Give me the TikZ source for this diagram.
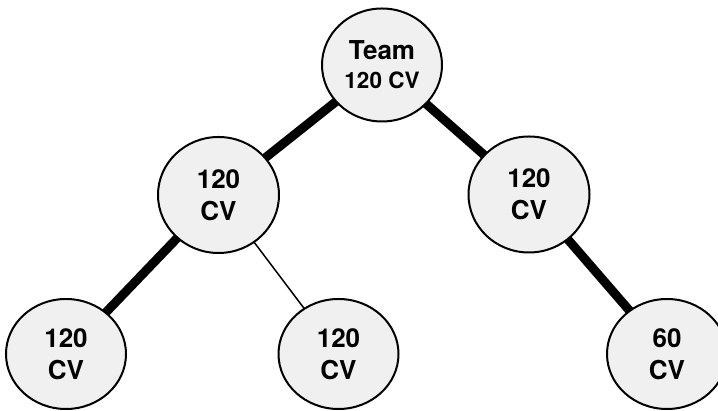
\documentclass[tikz,border=0pt]{standalone}
\usepackage{fontspec}
\setmainfont{TeX Gyre Heros}
\usetikzlibrary{shapes.geometric,backgrounds}
\definecolor{nodefill}{RGB}{240,240,240}
\tikzset{
  cvnode/.style={ellipse, draw=black, line width=2pt, fill=nodefill, inner sep=0pt,
    minimum width=120pt, minimum height=112pt, align=center,
    font=\bfseries\fontsize{26}{32}\selectfont},
  thickedge/.style={line width=9pt, black},
  thinedge/.style={line width=1.5pt, black}
}
\begin{document}
\begin{tikzpicture}[x=1pt,y=1pt]
\useasboundingbox (0,0) rectangle (718,411);
\clip (0,0) rectangle (718,411);
\node[cvnode, minimum height=113pt] (team) at (382,346)
  {Team\\[-3pt]{\fontsize{22.5}{29}\selectfont 120 CV}};
\node[cvnode, minimum width=121pt, minimum height=116pt] (ml) at (218.5,216) {120\\CV};
\node[cvnode, minimum width=121pt, minimum height=116pt] (mr) at (529,216.5) {120\\CV};
\node[cvnode, minimum height=110pt] (bl) at (66,57) {120\\CV};
\node[cvnode, minimum height=110pt] (bm) at (338.5,57) {120\\CV};
\node[cvnode, minimum height=110pt] (br) at (667,57) {60\\CV};
\begin{scope}[on background layer]
\draw[thickedge] (team.center) -- (ml.center);
\draw[thickedge] (team.center) -- (mr.center);
\draw[thickedge] (ml.center) -- (bl.center);
\draw[thinedge] (ml.center) -- (bm.center);
\draw[thickedge] (mr.center) -- (br.center);
\end{scope}
\end{tikzpicture}
\end{document}
